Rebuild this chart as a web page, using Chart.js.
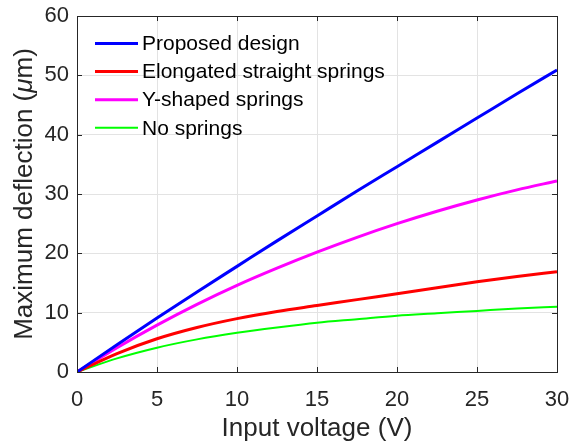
<!DOCTYPE html>
<html>
<head>
<meta charset="utf-8">
<script src="https://cdn.jsdelivr.net/npm/chart.js@4/dist/chart.umd.min.js"></script>
<style>
html,body{margin:0;padding:0;background:#fff;}
#wrap{width:578px;height:443px;position:relative;}
</style>
</head>
<body>
<div id="wrap"><canvas id="c" width="578" height="443"></canvas></div>
<script>
const voltage   = [0, 2.5, 5, 7.5, 10, 12.5, 15, 17.5, 20, 22.5, 25, 27.5, 30];
const proposed  = [0, 4.6, 9.1, 13.5, 17.8, 22.1, 26.3, 30.5, 34.6, 38.7, 42.8, 46.9, 50.9];
const elongated = [0, 3.1, 5.6, 7.5, 9.0, 10.2, 11.2, 12.2, 13.2, 14.2, 15.2, 16.1, 16.9];
const yShaped   = [0, 4.1, 7.9, 11.4, 14.6, 17.5, 20.2, 22.7, 25.0, 27.1, 29.0, 30.7, 32.2];
const noSprings = [0, 2.3, 4.1, 5.5, 6.6, 7.5, 8.3, 8.9, 9.5, 9.9, 10.3, 10.7, 11.0];
const seriesNames = ['Proposed design', 'Elongated straight springs', 'Y-shaped springs', 'No springs'];
const xTicks = [0, 5, 10, 15, 20, 25, 30];
const yTicks = [0, 10, 20, 30, 40, 50, 60];
const xTitle = 'Input voltage (V)';
const yTitleParts = [['Maximum deflection (', false], ['μ', true], ['m)', false]];

const FONT = '"Liberation Sans", Arial, sans-serif';
const TXT = '#262626';

function pts(ys){ return voltage.map((v,i)=>({x:v,y:ys[i]})); }

const colors = ['#0000ff', '#ff0000', '#ff00ff', '#00ff00'];
const widths = [3, 3, 3, 2];
const allData = [proposed, elongated, yShaped, noSprings];

const boxPlugin = {
  id: 'boxPlugin',
  afterDraw(chart){
    const ctx = chart.ctx, a = chart.chartArea;
    const xs = chart.scales.x, ys = chart.scales.y;
    ctx.save();
    ctx.strokeStyle = TXT;
    ctx.lineWidth = 1;
    ctx.beginPath();
    xTicks.forEach(t=>{
      const px = Math.round(xs.getPixelForValue(t)) + 0.5;
      ctx.moveTo(px, a.bottom); ctx.lineTo(px, a.bottom - 5);
      ctx.moveTo(px, a.top); ctx.lineTo(px, a.top + 5);
    });
    yTicks.forEach(t=>{
      const py = Math.round(ys.getPixelForValue(t)) + 0.5;
      ctx.moveTo(a.left, py); ctx.lineTo(a.left + 5, py);
      ctx.moveTo(a.right, py); ctx.lineTo(a.right - 5, py);
    });
    ctx.stroke();
    ctx.strokeRect(Math.round(a.left)+0.5, Math.round(a.top)+0.5, Math.round(a.right - a.left), Math.round(a.bottom - a.top));

    // y title with italic mu
    ctx.save();
    ctx.translate(25, (a.top + a.bottom) / 2);
    ctx.rotate(-Math.PI / 2);
    ctx.textBaseline = 'middle';
    ctx.textAlign = 'left';
    ctx.fillStyle = TXT;
    let total = 0;
    const fonts = yTitleParts.map(([t, it]) => (it ? 'italic ' : '') + '26px ' + FONT);
    yTitleParts.forEach(([t], i) => { ctx.font = fonts[i]; total += ctx.measureText(t).width; });
    let x = -total / 2;
    yTitleParts.forEach(([t], i) => { ctx.font = fonts[i]; ctx.fillText(t, x, 0); x += ctx.measureText(t).width; });
    ctx.restore();

    // legend
    const lx = a.left + 18, ly0 = a.top + 27.5, step = 28.1;
    ctx.font = '21px ' + FONT;
    ctx.textBaseline = 'middle';
    ctx.textAlign = 'left';
    chart.data.datasets.forEach((ds, i)=>{
      const y = ly0 + i*step;
      ctx.strokeStyle = ds.borderColor;
      ctx.lineWidth = ds.borderWidth;
      ctx.beginPath(); ctx.moveTo(lx, y); ctx.lineTo(lx + 43, y); ctx.stroke();
      ctx.fillStyle = '#000';
      ctx.fillText(ds.label, lx + 47, y + 1);
    });
    ctx.restore();
  }
};

new Chart(document.getElementById('c'), {
  type: 'line',
  data: {
    datasets: allData.map((d,i)=>({
      label: seriesNames[i],
      data: pts(d),
      borderColor: colors[i],
      backgroundColor: colors[i],
      borderWidth: widths[i],
      pointRadius: 0,
      cubicInterpolationMode: 'monotone',
      fill: false
    }))
  },
  options: {
    responsive: false,
    animation: false,
    devicePixelRatio: 1,
    layout: { padding: { left: 0, right: 21, top: 16, bottom: 0 } },
    plugins: { legend: { display: false }, tooltip: { enabled: false } },
    scales: {
      x: {
        type: 'linear', min: 0, max: 30,
        afterBuildTicks(s){ s.ticks = xTicks.map(v=>({value:v})); },
        afterFit(s){ s.height = 71; s.paddingLeft = 0; s.paddingRight = 0; },
        grid: { color: '#e3e3e3', drawTicks: false, lineWidth: 1 },
        border: { display: false },
        ticks: { color: TXT, font: { family: FONT, size: 22 }, padding: 15, maxRotation: 0 },
        title: { display: true, text: xTitle, color: TXT, font: { family: FONT, size: 26, lineHeight: 1.1 }, padding: { top: 0, bottom: 0 } }
      },
      y: {
        type: 'linear', min: 0, max: 60,
        afterBuildTicks(s){ s.ticks = yTicks.map(v=>({value:v})); },
        afterFit(s){ s.width = 77; s.paddingTop = 0; s.paddingBottom = 0; },
        grid: { color: '#e3e3e3', drawTicks: false, lineWidth: 1 },
        border: { display: false },
        ticks: { color: TXT, font: { family: FONT, size: 22 }, padding: 8 },
        title: { display: false }
      }
    }
  },
  plugins: [boxPlugin]
});
</script>
</body>
</html>
